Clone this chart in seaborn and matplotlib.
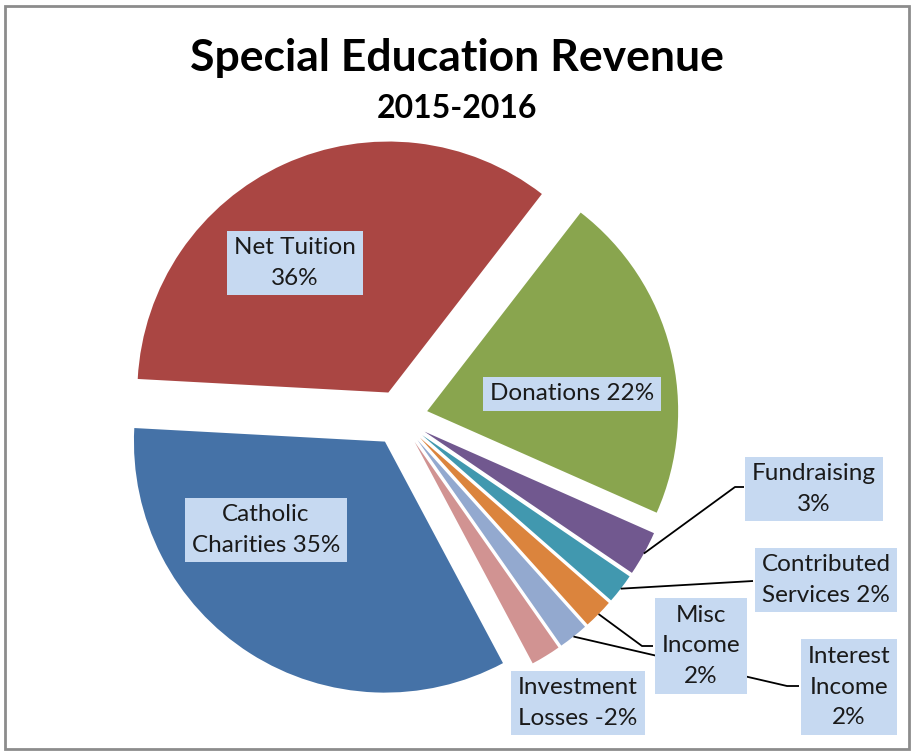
import numpy as np
import matplotlib
matplotlib.use("Agg")
import matplotlib.pyplot as plt
from matplotlib.patches import Rectangle
import seaborn as sns

sns.set_theme(style="white")
plt.rcParams['font.family'] = ['Lato', 'DejaVu Sans']

W, H = 914, 755

# slices, clockwise from the left edge of Net Tuition
categories = ["Net Tuition", "Donations", "Fundraising", "Contributed Services",
              "Misc Income", "Interest Income", "Investment Losses", "Catholic Charities"]
shares = [36, 22, 3, 2, 2, 2, -2, 35]
label_texts = ["Net Tuition\n36%", "Donations 22%", "Fundraising\n3%",
               "Contributed\nServices 2%", "Misc\nIncome\n2%", "Interest\nIncome\n2%",
               "Investment\nLosses -2%", "Catholic\nCharities 35%"]
colors = ["#AA4643", "#89A54E", "#71588F", "#4198AF",
          "#DB843D", "#93A9CF", "#D19392", "#4572A7"]

# label box centres (pixels from top-left) and leader elbows
label_pos = {
    "Net Tuition": (295, 263),
    "Donations": (572, 394),
    "Catholic Charities": (266, 530),
    "Fundraising": (814, 489),
    "Contributed Services": (826, 580),
    "Misc Income": (701, 646),
    "Interest Income": (849, 687),
    "Investment Losses": (578, 703),
}
leaders = {
    "Fundraising": [(735, 487), (744, 487)],
    "Contributed Services": [(753, 581)],
    "Misc Income": [(642, 646), (653, 646)],
    "Interest Income": [(787, 686), (799, 686)],
}

fig = plt.figure(figsize=(W / 100, H / 100), dpi=100)
ax = fig.add_axes([0, 0, 1, 1])

wedges, _ = ax.pie(np.abs(shares), colors=colors, startangle=176.9, counterclock=False,
                   explode=[28] * len(shares), radius=251, center=(400, H - 418),
                   wedgeprops=dict(linewidth=0))
ax.set_xlim(0, W)
ax.set_ylim(0, H)
ax.set_aspect('equal')
ax.axis('off')

for name, w in zip(categories, wedges):
    if name in leaders:
        mid = np.deg2rad((w.theta1 + w.theta2) / 2)
        x0 = w.center[0] + w.r * np.cos(mid)
        y0 = w.center[1] + w.r * np.sin(mid)
        pts = [(x0, y0)] + [(px, H - py) for px, py in leaders[name]]
        xs, ys = zip(*pts)
        ax.plot(xs, ys, color='black', lw=1.3, zorder=3, solid_capstyle='butt')

for name, txt in zip(categories, label_texts):
    cx, cy = label_pos[name]
    ax.text(cx, H - cy, txt, ha='center', va='center', fontsize=17.5, linespacing=1.55,
            color='#1A1A1A', zorder=5,
            bbox=dict(boxstyle='square,pad=0.28', fc='#C6D9F1', ec='none'))

ax.text(457, H - 58, "Special Education Revenue", ha='center', va='center',
        fontsize=32, fontweight='bold', color='black')
ax.text(457, H - 108, "2015-2016", ha='center', va='center',
        fontsize=23, fontweight='bold', color='black')

ax.add_patch(Rectangle((5, H - 749), 904, 743, fill=False, ec='#8C8C8C', lw=2, zorder=6))

fig.savefig("out.png", dpi=100)
